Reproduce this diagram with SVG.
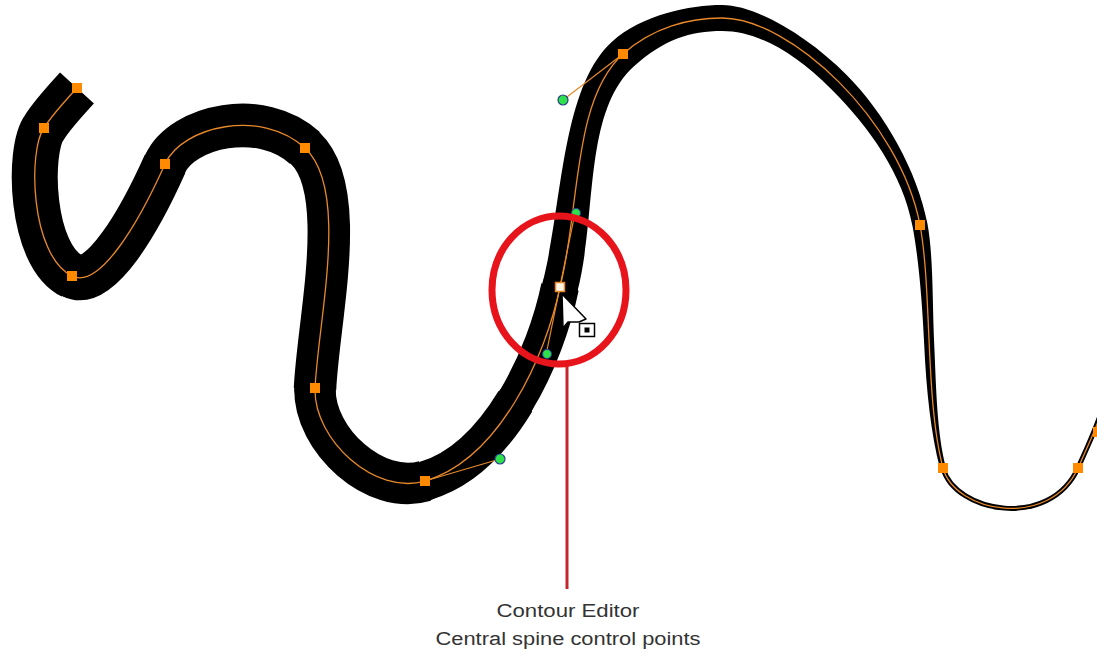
<svg xmlns="http://www.w3.org/2000/svg" width="1097" height="656" viewBox="0 0 1097 656">
  <style>
    .blk { fill: none; stroke: #000; stroke-linecap: butt; stroke-linejoin: round; }
    .spine { fill: none; stroke: #e8892a; stroke-width: 1.3; }
    .handle { fill: none; stroke: #e8892a; stroke-width: 1.2; }
    .pt { fill: #ff8a00; }
    .hp { fill: #2ee04a; stroke: #2a3f8f; stroke-width: 1.2; }
    .lbl { font-family: "Liberation Sans", "DejaVu Sans", sans-serif; font-size: 18px; fill: #333; text-anchor: middle; }
  </style>
  <rect width="1097" height="656" fill="#fff"/>

  <g id="brush-stroke">
    <path class="blk" stroke-width="46" d="M77,88 C66,100 52,115 44,128 C28,150 30,255 72,276"/>
    <path class="blk" stroke-width="44.5" d="M72,276 C100,290 140,220 165,164"/>
    <path class="blk" stroke-width="43.5" d="M165,164 C182,126 262,108 305,148"/>
    <path class="blk" stroke-width="42.5" d="M305,148 C350,190 318,320 315,389"/>
    <path class="blk" stroke-width="41.5" d="M315,389 C314,440 375,496 425,481"/>
    <path class="blk" stroke-width="39.5" d="M425,481 C462.5,470 492.75,438.5 515.4,401.25"/>
    <path class="blk" stroke-width="38" d="M515.4,401.25 C538,364 553,321 560,287"/>
    <path fill="#000" d="M542.6,282.5 C562.6,205.5 561,87.7 612,41.7 C642,14.7 690,5 722,5 C756,5 807.9,36.1 846.4,74.7 C884.9,113.3 917.4,171.1 927.4,223.6 C933.4,256.1 932.25,301 934.25,345.2 C936.25,389.3 936.9,433.2 945.9,467.2 L940.1,468.8 C931.1,434.8 926.25,389.7 924.25,345.6 C922.25,301.5 918.6,258.9 912.6,226.4 C902.6,173.9 870.1,128.2 831.6,89.5 C793.1,50.9 756,31 722,31 C690,31 664,39.3 634,66.3 C583,112.3 597.4,214.5 577.4,291.5 Z"/>
    <path class="blk" stroke-width="5" style="stroke-linecap:round" d="M943,468 C955,513 1050,530 1078,468 C1090,441.4 1100,420 1105,400"/>
    <circle cx="72" cy="276" r="22.2"/>
    <circle cx="165" cy="164" r="21.7"/>
    <circle cx="305" cy="148" r="21.2"/>
    <circle cx="315" cy="389" r="20.7"/>
    <circle cx="425" cy="481" r="19.7"/>
    <circle cx="515.4" cy="401.25" r="19"/>
    <circle cx="560" cy="287" r="18"/>
  </g>

  <g id="connectors">
    <path id="central-spine" class="spine" d="M77,88 C66,100 52,115 44,128 C28,150 30,255 72,276 C100,290 140,220 165,164 C182,126 262,108 305,148 C350,190 318,320 315,389 C314,440 375,496 425,481 C500,459 546,355 560,287 C580,210 572,100 623,54 C653,27 690,18 722,18 C790,18 900,120 920,225 C932,290 925,400 943,468 C955,513 1050,530 1078,468 C1090,441.4 1100,420 1105,400"/>
    <line class="handle" x1="623" y1="54" x2="563" y2="100"/>
    <line class="handle" x1="575" y1="213" x2="546" y2="355"/>
    <line class="handle" x1="425" y1="481" x2="500" y2="459"/>
    <line id="callout-line" x1="567" y1="366" x2="567" y2="589" stroke="#c4262e" stroke-width="3"/>
  </g>

  <g id="control-points">
    <rect class="pt" x="72" y="83" width="10" height="10"/>
    <rect class="pt" x="39" y="123" width="10" height="10"/>
    <rect class="pt" x="67" y="271" width="10" height="10"/>
    <rect class="pt" x="160" y="159" width="10" height="10"/>
    <rect class="pt" x="300" y="143" width="10" height="10"/>
    <rect class="pt" x="310" y="383" width="10" height="10"/>
    <rect class="pt" x="420" y="476" width="10" height="10"/>
    <rect class="pt" x="618" y="49" width="10" height="10"/>
    <rect class="pt" x="915" y="220" width="10" height="10"/>
    <rect class="pt" x="938" y="463" width="10" height="10"/>
    <rect class="pt" x="1073" y="463" width="10" height="10"/>
    <rect class="pt" x="1093" y="427" width="10" height="10"/>
  </g>

  <g id="handle-points">
    <circle class="hp" cx="563" cy="100" r="5"/>
    <circle class="hp" cx="576" cy="213" r="4.5"/>
    <circle class="hp" cx="547" cy="354" r="4.5"/>
    <circle class="hp" cx="500" cy="459" r="5"/>
  </g>

  <g id="selected-point">
    <rect x="555.5" y="282.5" width="9" height="9" fill="#fff6e6" stroke="#e8892a" stroke-width="1.5"/>
  </g>

  <g id="highlight-circle">
    <ellipse cx="559" cy="290" rx="67" ry="74" fill="none" stroke="#e8141c" stroke-width="7"/>
  </g>

  <g id="cursor">
    <polygon points="562,294 586,319 579,322 568,322 563,328" fill="#fff" stroke="#000" stroke-width="1.5" stroke-linejoin="round"/>
    <rect x="579.5" y="323.5" width="15" height="13" fill="#fff" stroke="#000" stroke-width="1.5"/>
    <rect x="584.5" y="327.5" width="5" height="5" fill="#000"/>
  </g>

  <g id="label">
    <text class="lbl" x="568" y="617" textLength="143" lengthAdjust="spacingAndGlyphs">Contour Editor</text>
    <text class="lbl" x="568" y="645" textLength="265" lengthAdjust="spacingAndGlyphs">Central spine control points</text>
  </g>
</svg>
